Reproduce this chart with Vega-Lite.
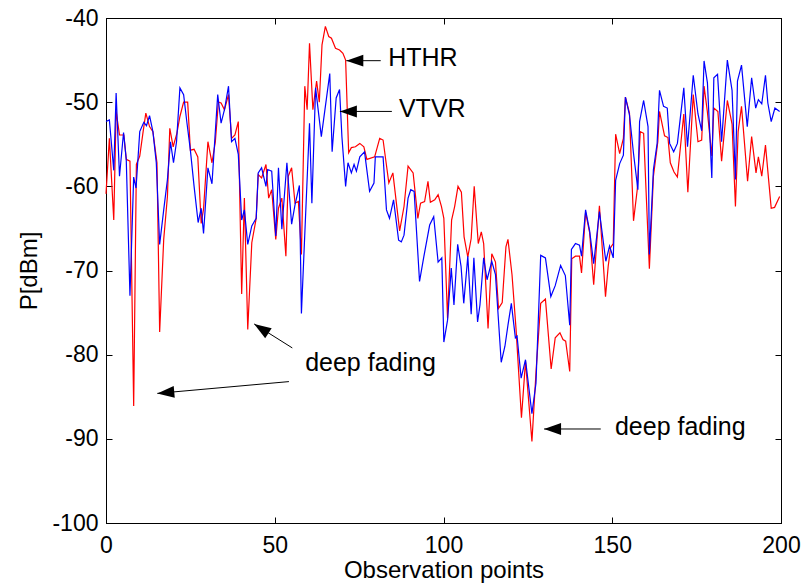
{
  "$schema": "https://vega.github.io/schema/vega-lite/v6.json",
  "width": 675,
  "height": 505,
  "autosize": {"type": "none"},
  "padding": {"left": 106, "top": 18, "right": 25, "bottom": 61},
  "background": "white",
  "config": {
    "view": {"stroke": "black", "strokeWidth": 1},
    "font": "Liberation Sans",
    "axis": {
      "grid": false,
      "domainColor": "black",
      "tickColor": "black",
      "labelColor": "black",
      "titleColor": "black",
      "labelFont": "Liberation Sans",
      "titleFont": "Liberation Sans",
      "labelFontSize": 23,
      "titleFontSize": 24,
      "titleFontWeight": "normal",
      "tickSize": -6,
      "labelPadding": 14,
      "labelExpr": "toString(datum.value)"
    }
  },
  "datasets": {
    "hthr": [
      {"x":0.0,"p":-60.9},{"x":1.0,"p":-54.3},{"x":2.3,"p":-64.0},{"x":3.0,"p":-51.1},{"x":4.0,"p":-53.9},
      {"x":5.3,"p":-53.9},{"x":6.0,"p":-56.8},{"x":7.1,"p":-57.0},{"x":8.2,"p":-86.1},{"x":9.0,"p":-57.4},
      {"x":10.0,"p":-56.4},{"x":11.0,"p":-53.5},{"x":11.8,"p":-51.3},{"x":12.9,"p":-52.9},{"x":13.9,"p":-53.5},
      {"x":15.1,"p":-57.2},{"x":15.9,"p":-77.3},{"x":17.1,"p":-66.3},{"x":18.2,"p":-61.2},{"x":18.9,"p":-53.1},
      {"x":19.9,"p":-55.3},{"x":21.0,"p":-53.7},{"x":21.9,"p":-51.7},{"x":23.0,"p":-50.0},{"x":24.2,"p":-50.0},
      {"x":25.0,"p":-55.7},{"x":26.1,"p":-55.6},{"x":27.2,"p":-56.5},{"x":28.2,"p":-64.4},{"x":28.9,"p":-62.7},
      {"x":30.2,"p":-54.7},{"x":31.4,"p":-57.2},{"x":32.4,"p":-54.7},{"x":33.3,"p":-50.0},{"x":34.1,"p":-50.1},
      {"x":35.1,"p":-50.9},{"x":36.3,"p":-49.1},{"x":37.2,"p":-54.3},{"x":38.2,"p":-53.9},{"x":39.2,"p":-52.3},
      {"x":40.2,"p":-72.8},{"x":41.0,"p":-61.4},{"x":42.0,"p":-77.0},{"x":43.2,"p":-66.7},{"x":44.5,"p":-63.8},
      {"x":45.1,"p":-58.6},{"x":46.1,"p":-59.0},{"x":47.4,"p":-57.4},{"x":48.2,"p":-61.4},{"x":49.1,"p":-60.4},
      {"x":50.3,"p":-66.3},{"x":51.1,"p":-62.6},{"x":52.1,"p":-61.4},{"x":53.3,"p":-68.3},{"x":54.0,"p":-58.8},
      {"x":55.0,"p":-57.8},{"x":56.0,"p":-62.0},{"x":57.0,"p":-61.8},{"x":57.9,"p":-68.1},{"x":58.9,"p":-48.1},
      {"x":59.6,"p":-50.9},{"x":60.3,"p":-43.0},{"x":61.3,"p":-50.9},{"x":62.4,"p":-47.5},{"x":63.2,"p":-50.0},
      {"x":64.0,"p":-43.2},{"x":65.0,"p":-41.0},{"x":66.0,"p":-42.2},{"x":66.8,"p":-42.4},{"x":68.0,"p":-43.6},
      {"x":69.2,"p":-43.8},{"x":70.2,"p":-44.2},{"x":71.0,"p":-45.0},{"x":71.9,"p":-56.0},{"x":72.7,"p":-55.4},
      {"x":73.9,"p":-55.3},{"x":75.2,"p":-54.9},{"x":76.4,"p":-55.3},{"x":77.3,"p":-56.8},{"x":79.6,"p":-56.5},
      {"x":81.1,"p":-54.3},{"x":82.1,"p":-54.5},{"x":83.8,"p":-59.6},{"x":85.0,"p":-58.4},{"x":87.0,"p":-65.3},
      {"x":88.3,"p":-62.4},{"x":89.5,"p":-57.6},{"x":91.0,"p":-58.4},{"x":92.4,"p":-63.8},{"x":93.2,"p":-62.0},
      {"x":94.4,"p":-61.8},{"x":95.4,"p":-59.4},{"x":96.1,"p":-61.9},{"x":97.4,"p":-61.6},{"x":98.4,"p":-61.0},
      {"x":99.4,"p":-62.4},{"x":100.1,"p":-63.8},{"x":101.2,"p":-75.7},{"x":102.4,"p":-64.0},{"x":103.3,"p":-62.4},
      {"x":104.3,"p":-60.0},{"x":105.3,"p":-60.7},{"x":106.1,"p":-66.0},{"x":107.2,"p":-68.4},{"x":108.2,"p":-66.2},
      {"x":109.1,"p":-60.0},{"x":110.3,"p":-66.8},{"x":111.2,"p":-65.4},{"x":111.9,"p":-66.8},{"x":113.2,"p":-76.9},
      {"x":114.3,"p":-68.0},{"x":115.4,"p":-69.0},{"x":116.3,"p":-74.5},{"x":117.4,"p":-73.8},{"x":118.5,"p":-67.2},
      {"x":119.1,"p":-66.3},{"x":120.3,"p":-70.5},{"x":121.5,"p":-77.0},{"x":123.1,"p":-87.5},{"x":124.3,"p":-80.8},
      {"x":126.2,"p":-90.3},{"x":127.5,"p":-81.5},{"x":128.8,"p":-73.9},{"x":130.2,"p":-73.4},{"x":131.9,"p":-81.7},
      {"x":133.1,"p":-78.0},{"x":134.5,"p":-77.4},{"x":135.4,"p":-78.2},{"x":136.2,"p":-78.4},{"x":137.4,"p":-82.0},
      {"x":138.0,"p":-68.6},{"x":139.1,"p":-68.3},{"x":140.3,"p":-68.3},{"x":140.9,"p":-70.3},{"x":142.1,"p":-63.1},
      {"x":143.3,"p":-65.5},{"x":144.5,"p":-71.7},{"x":146.2,"p":-62.3},{"x":148.0,"p":-73.1},{"x":148.8,"p":-69.5},
      {"x":149.5,"p":-67.3},{"x":150.3,"p":-66.8},{"x":151.0,"p":-53.8},{"x":152.2,"p":-56.1},{"x":153.3,"p":-54.3},
      {"x":153.9,"p":-49.4},{"x":155.1,"p":-51.3},{"x":156.3,"p":-64.1},{"x":157.4,"p":-60.4},{"x":158.3,"p":-53.5},
      {"x":159.3,"p":-53.7},{"x":161.0,"p":-69.8},{"x":162.2,"p":-58.8},{"x":163.5,"p":-54.7},{"x":164.0,"p":-51.1},
      {"x":165.5,"p":-54.0},{"x":166.5,"p":-54.2},{"x":167.2,"p":-57.2},{"x":168.3,"p":-58.3},{"x":169.3,"p":-58.9},
      {"x":171.2,"p":-51.4},{"x":172.4,"p":-60.7},{"x":174.0,"p":-49.1},{"x":175.4,"p":-54.7},{"x":176.5,"p":-54.5},
      {"x":177.2,"p":-48.1},{"x":178.2,"p":-51.2},{"x":179.5,"p":-56.4},{"x":180.1,"p":-50.7},{"x":181.3,"p":-51.1},
      {"x":182.4,"p":-57.0},{"x":184.1,"p":-49.8},{"x":185.5,"p":-52.6},{"x":186.5,"p":-62.4},{"x":187.3,"p":-53.5},
      {"x":188.3,"p":-50.5},{"x":190.1,"p":-59.4},{"x":191.3,"p":-54.1},{"x":192.6,"p":-58.4},{"x":193.3,"p":-56.5},
      {"x":194.3,"p":-58.8},{"x":195.4,"p":-55.1},{"x":197.1,"p":-62.6},{"x":198.1,"p":-62.5},{"x":199.6,"p":-61.2}
    ],
    "vtvr": [
      {"x":0.0,"p":-52.3},{"x":1.0,"p":-52.1},{"x":2.3,"p":-58.1},{"x":3.0,"p":-48.9},{"x":4.0,"p":-58.8},
      {"x":5.2,"p":-53.6},{"x":6.0,"p":-56.8},{"x":7.1,"p":-73.0},{"x":8.2,"p":-58.9},{"x":8.9,"p":-60.2},
      {"x":10.0,"p":-53.5},{"x":11.2,"p":-52.4},{"x":12.0,"p":-52.8},{"x":12.9,"p":-51.6},{"x":13.9,"p":-53.5},
      {"x":14.9,"p":-57.2},{"x":15.9,"p":-66.9},{"x":17.1,"p":-62.8},{"x":18.2,"p":-59.2},{"x":19.1,"p":-54.7},
      {"x":20.0,"p":-57.2},{"x":20.9,"p":-54.7},{"x":21.9,"p":-48.3},{"x":23.0,"p":-49.1},{"x":24.0,"p":-52.5},
      {"x":25.0,"p":-55.7},{"x":26.1,"p":-60.0},{"x":27.3,"p":-64.3},{"x":28.2,"p":-62.6},{"x":28.9,"p":-65.6},
      {"x":30.2,"p":-57.8},{"x":31.4,"p":-59.7},{"x":33.1,"p":-49.1},{"x":34.1,"p":-52.5},{"x":35.1,"p":-50.9},
      {"x":36.3,"p":-48.1},{"x":37.2,"p":-54.7},{"x":38.2,"p":-54.3},{"x":39.2,"p":-56.2},{"x":40.2,"p":-64.0},
      {"x":41.0,"p":-62.8},{"x":42.0,"p":-66.9},{"x":43.2,"p":-64.7},{"x":44.5,"p":-63.8},{"x":45.1,"p":-58.4},
      {"x":46.1,"p":-57.8},{"x":47.4,"p":-60.0},{"x":47.9,"p":-58.0},{"x":49.1,"p":-58.2},{"x":50.3,"p":-65.9},
      {"x":51.1,"p":-57.8},{"x":52.1,"p":-65.1},{"x":53.6,"p":-57.2},{"x":55.0,"p":-64.5},{"x":56.0,"p":-62.2},
      {"x":57.3,"p":-59.9},{"x":57.9,"p":-75.1},{"x":60.3,"p":-52.5},{"x":61.0,"p":-62.0},{"x":62.1,"p":-48.3},
      {"x":63.8,"p":-54.1},{"x":66.3,"p":-46.6},{"x":67.0,"p":-55.9},{"x":68.2,"p":-49.5},{"x":69.2,"p":-48.5},
      {"x":69.9,"p":-54.1},{"x":71.0,"p":-60.0},{"x":71.7,"p":-57.2},{"x":72.7,"p":-58.4},{"x":73.5,"p":-57.4},
      {"x":74.2,"p":-58.2},{"x":75.2,"p":-56.5},{"x":76.6,"p":-55.9},{"x":78.1,"p":-60.6},{"x":79.4,"p":-59.6},
      {"x":79.8,"p":-56.5},{"x":82.1,"p":-56.5},{"x":83.1,"p":-62.8},{"x":84.0,"p":-63.8},{"x":85.2,"p":-61.6},
      {"x":86.7,"p":-66.4},{"x":87.5,"p":-66.6},{"x":88.3,"p":-65.8},{"x":89.5,"p":-61.4},{"x":90.3,"p":-60.4},
      {"x":91.3,"p":-60.6},{"x":92.9,"p":-71.3},{"x":94.2,"p":-68.3},{"x":95.9,"p":-64.6},{"x":97.1,"p":-63.6},
      {"x":98.4,"p":-69.0},{"x":99.5,"p":-68.5},{"x":100.1,"p":-78.5},{"x":101.2,"p":-75.9},{"x":102.3,"p":-69.7},
      {"x":103.1,"p":-74.1},{"x":104.2,"p":-66.9},{"x":105.2,"p":-69.5},{"x":106.0,"p":-73.9},{"x":107.2,"p":-68.3},
      {"x":108.2,"p":-75.2},{"x":109.0,"p":-68.5},{"x":110.1,"p":-76.1},{"x":110.8,"p":-74.1},{"x":111.9,"p":-68.5},
      {"x":112.9,"p":-71.1},{"x":114.3,"p":-68.9},{"x":115.4,"p":-70.5},{"x":117.1,"p":-80.9},{"x":118.2,"p":-79.0},
      {"x":119.1,"p":-76.5},{"x":120.1,"p":-73.9},{"x":121.3,"p":-78.0},{"x":121.8,"p":-77.8},{"x":123.0,"p":-82.8},
      {"x":124.3,"p":-80.6},{"x":126.2,"p":-87.0},{"x":127.4,"p":-83.4},{"x":128.8,"p":-68.2},{"x":130.2,"p":-68.5},
      {"x":131.8,"p":-73.1},{"x":133.1,"p":-71.8},{"x":134.7,"p":-69.4},{"x":136.1,"p":-70.6},{"x":137.4,"p":-76.5},
      {"x":137.9,"p":-67.5},{"x":139.1,"p":-66.8},{"x":140.3,"p":-67.0},{"x":140.9,"p":-68.3},{"x":142.1,"p":-62.8},
      {"x":143.3,"p":-65.3},{"x":144.5,"p":-69.2},{"x":146.2,"p":-63.0},{"x":148.1,"p":-68.9},{"x":149.2,"p":-67.1},
      {"x":150.3,"p":-68.5},{"x":151.0,"p":-59.3},{"x":152.2,"p":-57.3},{"x":153.3,"p":-56.3},{"x":153.9,"p":-49.4},
      {"x":155.1,"p":-51.5},{"x":156.3,"p":-56.1},{"x":157.6,"p":-60.4},{"x":158.1,"p":-52.3},{"x":159.3,"p":-49.8},
      {"x":160.6,"p":-52.9},{"x":161.0,"p":-68.1},{"x":162.2,"p":-58.0},{"x":163.3,"p":-54.9},{"x":164.0,"p":-48.6},
      {"x":165.2,"p":-50.5},{"x":166.3,"p":-50.7},{"x":167.0,"p":-54.9},{"x":168.2,"p":-55.9},{"x":169.3,"p":-54.9},
      {"x":171.2,"p":-48.3},{"x":172.3,"p":-55.3},{"x":174.0,"p":-46.8},{"x":175.4,"p":-51.4},{"x":176.5,"p":-53.4},
      {"x":177.2,"p":-45.1},{"x":178.2,"p":-47.7},{"x":179.5,"p":-59.0},{"x":180.1,"p":-47.1},{"x":181.2,"p":-46.7},
      {"x":182.4,"p":-54.7},{"x":184.1,"p":-45.0},{"x":185.5,"p":-48.6},{"x":186.5,"p":-59.2},{"x":187.1,"p":-47.5},
      {"x":188.3,"p":-45.6},{"x":190.0,"p":-52.9},{"x":191.3,"p":-47.1},{"x":192.5,"p":-50.7},{"x":193.3,"p":-49.7},
      {"x":194.3,"p":-50.2},{"x":195.4,"p":-46.8},{"x":196.1,"p":-50.1},{"x":197.1,"p":-52.3},{"x":198.2,"p":-50.7},
      {"x":199.6,"p":-51.1}
    ],
    "shafts": [
      {"x":71.2,"y":-45.07,"x2":81.4,"y2":-45.07},
      {"x":69.3,"y":-51.1,"x2":84.7,"y2":-51.1},
      {"x":43.9,"y":-76.35,"x2":55.2,"y2":-79.2},
      {"x":15.2,"y":-84.6,"x2":54.2,"y2":-83.2},
      {"x":129.8,"y":-88.83,"x2":146.6,"y2":-88.83}
    ],
    "headsLeft": [
      {"x":71.2,"y":-45.07},
      {"x":69.3,"y":-51.1},
      {"x":129.8,"y":-88.83}
    ],
    "headUp": [{"x":43.9,"y":-76.35}],
    "headLow": [{"x":15.2,"y":-84.6}],
    "notes": [
      {"x":83.6,"y":-44.8,"t":"HTHR"},
      {"x":86.8,"y":-50.8,"t":"VTVR"},
      {"x":59.0,"y":-81.0,"t":"deep fading"},
      {"x":150.8,"y":-88.6,"t":"deep fading"}
    ]
  },
  "layer": [
    {
      "data": {"name": "hthr"},
      "mark": {"type": "line", "color": "#ff0000", "strokeWidth": 1.2},
      "encoding": {
        "x": {"field": "x", "type": "quantitative",
              "scale": {"domain": [0, 200], "nice": false, "zero": false},
              "axis": {"values": [0, 50, 100, 150, 200], "title": "Observation points", "titlePadding": 1, "labelPadding": 17, "labelFlush": false}},
        "y": {"field": "p", "type": "quantitative",
              "scale": {"domain": [-100, -40], "nice": false, "zero": false},
              "axis": {"values": [-100, -90, -80, -70, -60, -50, -40], "title": "P[dBm]", "titlePadding": 10, "labelFlush": false}}
      }
    },
    {
      "data": {"name": "vtvr"},
      "mark": {"type": "line", "color": "#0000ff", "strokeWidth": 1.2},
      "encoding": {
        "x": {"field": "x", "type": "quantitative",
              "axis": {"orient": "top", "values": [0, 50, 100, 150, 200], "labels": false, "title": null}},
        "y": {"field": "p", "type": "quantitative",
              "axis": {"orient": "right", "values": [-100, -90, -80, -70, -60, -50, -40], "labels": false, "title": null}}
      }
    },
    {
      "data": {"name": "shafts"},
      "mark": {"type": "rule", "color": "black", "strokeWidth": 1},
      "encoding": {
        "x": {"field": "x", "type": "quantitative", "axis": null},
        "y": {"field": "y", "type": "quantitative", "axis": null},
        "x2": {"field": "x2"},
        "y2": {"field": "y2"}
      }
    },
    {
      "data": {"name": "headsLeft"},
      "mark": {"type": "point", "shape": "M0,0L2,-0.7L2,0.7Z", "filled": true, "color": "black", "opacity": 1, "size": 289, "strokeWidth": 0},
      "encoding": {
        "x": {"field": "x", "type": "quantitative", "axis": null},
        "y": {"field": "y", "type": "quantitative", "axis": null}
      }
    },
    {
      "data": {"name": "headUp"},
      "mark": {"type": "point", "shape": "M0,0L2,-0.7L2,0.7Z", "filled": true, "color": "black", "opacity": 1, "size": 289, "strokeWidth": 0, "angle": 33},
      "encoding": {
        "x": {"field": "x", "type": "quantitative", "axis": null},
        "y": {"field": "y", "type": "quantitative", "axis": null}
      }
    },
    {
      "data": {"name": "headLow"},
      "mark": {"type": "point", "shape": "M0,0L2,-0.7L2,0.7Z", "filled": true, "color": "black", "opacity": 1, "size": 289, "strokeWidth": 0, "angle": 355},
      "encoding": {
        "x": {"field": "x", "type": "quantitative", "axis": null},
        "y": {"field": "y", "type": "quantitative", "axis": null}
      }
    },
    {
      "data": {"name": "notes"},
      "mark": {"type": "text", "align": "left", "baseline": "middle", "font": "Liberation Sans", "fontSize": 25, "color": "black"},
      "encoding": {
        "x": {"field": "x", "type": "quantitative", "axis": null},
        "y": {"field": "y", "type": "quantitative", "axis": null},
        "text": {"field": "t"}
      }
    }
  ],
  "resolve": {"axis": {"x": "independent", "y": "independent"}}
}
